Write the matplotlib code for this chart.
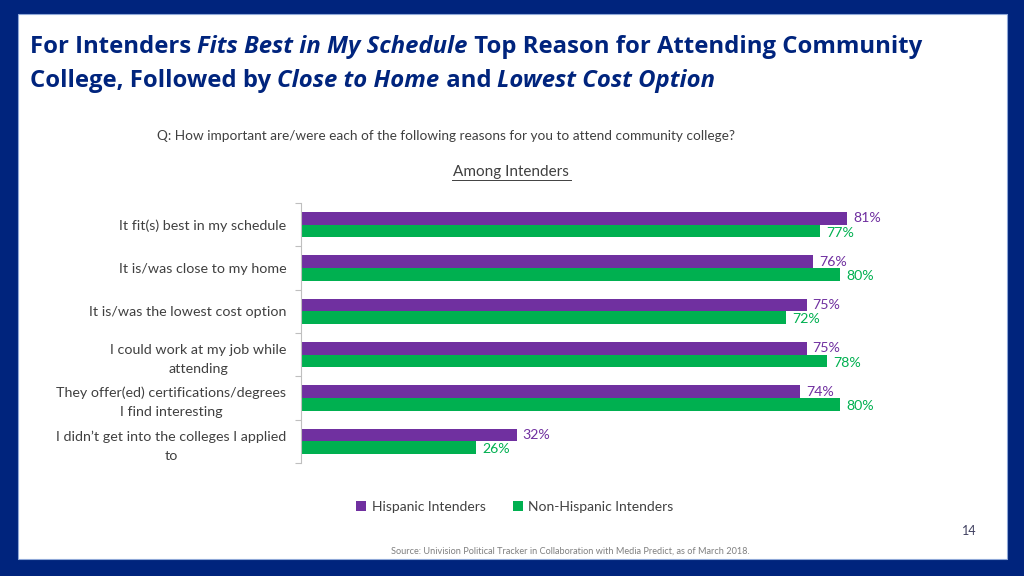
import numpy as np
import matplotlib.pyplot as plt
from matplotlib.patches import Rectangle

# --- data ---
categories = [
    "It fit(s) best in my schedule",
    "It is/was close to my home",
    "It is/was the lowest cost option",
    "I could work at my job while\nattending",
    "They offer(ed) certifications/degrees\nI find interesting",
    "I didn\u2019t get into the colleges I applied\nto",
]
hispanic = [81, 76, 75, 75, 74, 32]
non_hispanic = [77, 80, 72, 78, 80, 26]
series_names = ["Hispanic Intenders", "Non-Hispanic Intenders"]

PURPLE = "#7030A0"
GREEN = "#00B050"
NAVY = "#00247D"
W, H = 1024, 576

fig = plt.figure(figsize=(10.24, 5.76), dpi=100)
fig.patch.set_facecolor(NAVY)

# white slide panel
fig.patches.append(Rectangle((18 / W, 1 - 559 / H), (1007 - 18) / W, (559 - 14) / H,
                             transform=fig.transFigure, facecolor="white",
                             edgecolor="#8FA8D8", linewidth=0.8, zorder=-10))


def title_line(y, parts):
    # write a title line piece by piece so that italic parts can sit inline
    x = 30
    r = fig.canvas.get_renderer()
    for txt, style in parts:
        t = fig.text(x / W, 1 - y / H, txt, fontsize=17.2, fontweight="bold",
                     fontstyle=style, color=NAVY, family="Open Sans",
                     va="center")
        x += t.get_window_extent(renderer=r).width


title_line(47, [("For Intenders ", "normal"), ("Fits Best in My Schedule", "italic"),
                (" Top Reason for Attending Community", "normal")])
title_line(81, [("College, Followed by ", "normal"), ("Close to Home", "italic"),
                (" and ", "normal"), ("Lowest Cost Option", "italic")])

fig.text(446 / W, 1 - 136 / H,
         "Q: How important are/were each of the following reasons for you to attend community college?",
         fontsize=9.8, color="#404040", ha="center", va="center", family="Lato")
fig.text(511 / W, 1 - 172 / H, "Among Intenders", fontsize=11, color="#404040",
         ha="center", va="center", family="Lato")
fig.add_artist(plt.Line2D([452 / W, 571 / W], [1 - 180 / H, 1 - 180 / H],
                          color="#404040", linewidth=0.7))

# chart axes
left, right, top, bottom = 301, 975, 203, 463
ax = fig.add_axes([left / W, 1 - bottom / H, (right - left) / W, (bottom - top) / H])
ax.set_facecolor("none")

y = np.arange(len(categories))
h = 0.29
ax.barh(y - h / 2, hispanic, height=h, color=PURPLE, label=series_names[0])
ax.barh(y + h / 2, non_hispanic, height=h, color=GREEN, label=series_names[1])

for yi, v in zip(y, hispanic):
    ax.text(v + 0.9, yi - h / 2, f"{v}%", color=PURPLE, fontsize=10.2,
            va="center", ha="left", family="Lato")
for yi, v in zip(y, non_hispanic):
    ax.text(v + 0.9, yi + h / 2 + 0.04, f"{v}%", color=GREEN, fontsize=10.2,
            va="center", ha="left", family="Lato")

ax.set_xlim(0, 100)
ax.set_ylim(len(categories) - 0.5, -0.5)
ax.set_yticks(y)
ax.set_yticklabels(categories, fontsize=10.3, color="#404040", family="Lato",
                   linespacing=1.7)
for lbl in ax.get_yticklabels():
    lbl.set_multialignment("center")
ax.tick_params(axis="y", which="major", length=0, pad=10.5)
ax.set_yticks(np.arange(len(categories) + 1) - 0.5, minor=True)
ax.tick_params(axis="y", which="minor", length=4, color="#BFBFBF", width=0.8)
ax.set_xticks([])
for s in ["top", "right", "bottom"]:
    ax.spines[s].set_visible(False)
ax.spines["left"].set_color("#BFBFBF")
ax.spines["left"].set_linewidth(0.8)

leg = fig.legend(loc="center", bbox_to_anchor=(515 / W, 1 - 507 / H), ncol=2,
                 frameon=False, handlelength=0.7, handleheight=0.7,
                 handletextpad=0.4, columnspacing=2.0,
                 prop={"family": "Lato", "size": 10})
for t in leg.get_texts():
    t.set_color("#404040")

fig.text(969 / W, 1 - 531 / H, "14", fontsize=9, color="#404060", ha="center",
         va="center", family="Lato")
fig.text(570 / W, 1 - 551 / H,
         "Source: Univision Political Tracker in Collaboration with Media Predict, as of March 2018.",
         fontsize=6.6, color="#7F7F7F", ha="center", va="center", family="Lato")

fig.savefig("out.png", dpi=100, facecolor=NAVY)
